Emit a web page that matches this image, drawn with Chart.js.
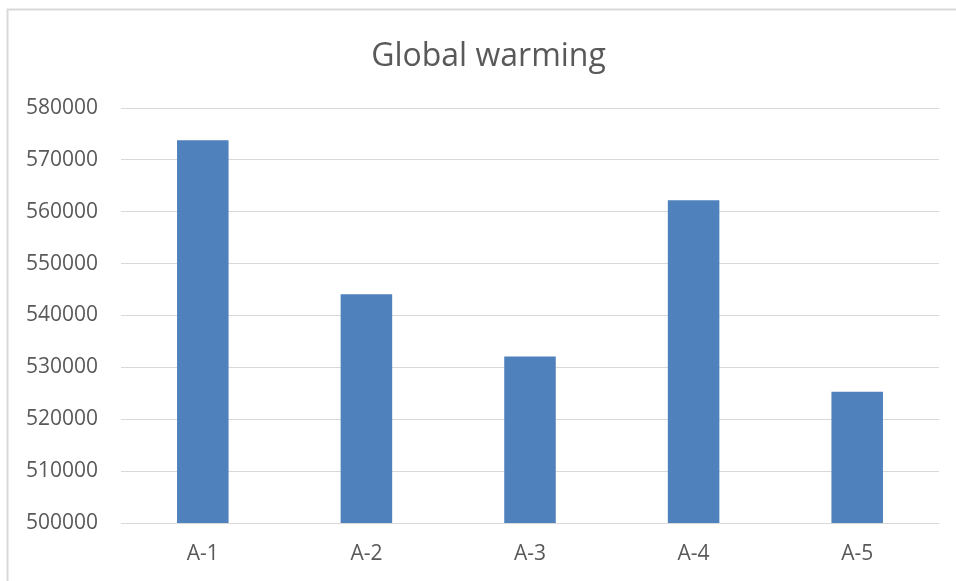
<!DOCTYPE html>
<html>
<head>
<meta charset="utf-8">
<title>Global warming</title>
<script src="https://cdn.jsdelivr.net/npm/chart.js@4/dist/chart.umd.min.js"></script>
<style>
  html, body { margin: 0; padding: 0; background: #ffffff; }
  #wrap { position: relative; width: 956px; height: 581px; }
</style>
</head>
<body>
<div id="wrap"><canvas id="chart" width="956" height="581"></canvas></div>
<script>
const categories = ['A-1', 'A-2', 'A-3', 'A-4', 'A-5'];
const values = [573800, 544100, 532100, 562200, 525300];
const yMin = 500000;
const yMax = 580000;
const yStep = 10000;
const chartTitle = 'Global warming';

const textColor = '#595959';
const gridColor = '#d9d9d9';
const barColor = '#4f81bd';
const fontFamily = '"Open Sans", sans-serif';

// Light frame along the top and left edges, plus the title centred over the whole frame
const framePlugin = {
  id: 'frame',
  beforeDraw(chart) {
    const ctx = chart.ctx;
    ctx.save();
    ctx.strokeStyle = gridColor;
    ctx.lineWidth = 2;
    ctx.beginPath();
    ctx.moveTo(7.5, chart.height);
    ctx.lineTo(7.5, 9.5);
    ctx.lineTo(chart.width, 9.5);
    ctx.stroke();
    ctx.restore();
  },
  afterDraw(chart) {
    const ctx = chart.ctx;
    ctx.save();
    ctx.fillStyle = textColor;
    ctx.font = '32px ' + fontFamily;
    ctx.textAlign = 'center';
    ctx.textBaseline = 'middle';
    ctx.fillText(chartTitle, (7 + chart.width + 14) / 2, 57);
    ctx.restore();
  }
};

new Chart(document.getElementById('chart'), {
  type: 'bar',
  data: {
    labels: categories,
    datasets: [{
      label: chartTitle,
      data: values,
      backgroundColor: barColor,
      borderWidth: 0,
      categoryPercentage: 1,
      barPercentage: 0.315
    }]
  },
  options: {
    responsive: false,
    animation: false,
    layout: { padding: { top: 108, right: 17, bottom: 0, left: 0 } },
    plugins: {
      legend: { display: false },
      tooltip: { enabled: false },
      title: { display: false }
    },
    scales: {
      x: {
        afterFit(scale) { scale.height = 58; },
        grid: { display: false, drawTicks: false },
        border: { display: false },
        ticks: {
          color: textColor,
          padding: 18,
          font: { family: fontFamily, size: 21 }
        }
      },
      y: {
        min: yMin,
        max: yMax,
        afterFit(scale) { scale.width = 121; },
        grid: { color: gridColor, lineWidth: 1, drawTicks: false },
        border: { display: false },
        ticks: {
          stepSize: yStep,
          color: textColor,
          padding: 23,
          font: { family: fontFamily, size: 21 },
          callback: (v) => String(v)
        }
      }
    }
  },
  plugins: [framePlugin]
});
</script>
</body>
</html>
